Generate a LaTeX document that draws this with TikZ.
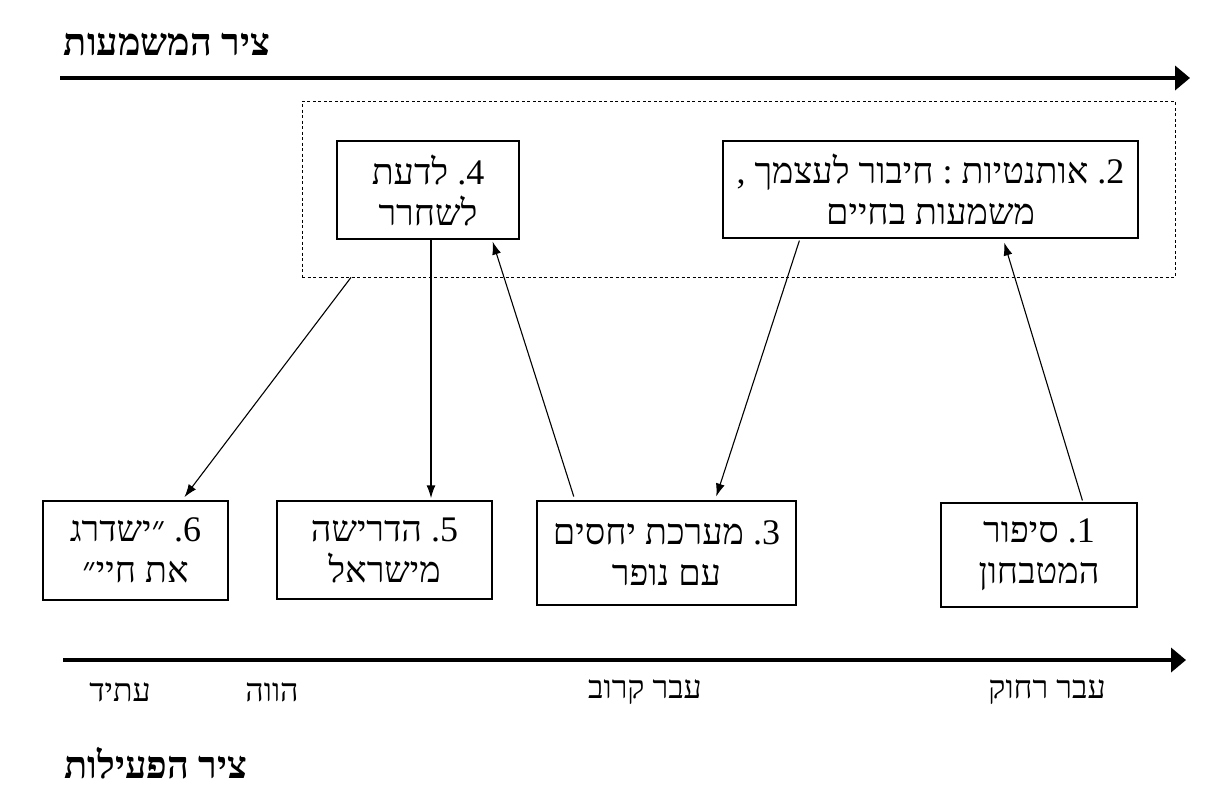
\documentclass[tikz,border=0pt]{standalone}
\usepackage{fontspec}
\usetikzlibrary{arrows.meta}
\TeXXeTstate=1
\newfontfamily\heb[Script=Hebrew]{Liberation Serif}
\frenchspacing
\begin{document}
\begin{tikzpicture}[x=1pt,y=-1pt,
  box/.style={draw, line width=1.3pt, inner sep=0pt, align=center,
    font=\heb\fontsize{36}{41}\selectfont},
  conn/.style={line width=1.1pt, -{Latex[length=13pt,width=9pt]}},
  axis/.style={line width=4pt, -{Triangle[length=15pt,width=24pt]}},
  axlabel/.style={font=\heb\fontsize{32}{36}\selectfont, inner sep=0pt},
  title/.style={font=\heb\bfseries\fontsize{38}{42}\selectfont, inner sep=0pt}]
\useasboundingbox (0,0) rectangle (1225,801);

% titles
\node[title] (t1) at (167,45) {\beginR ציר המשמעות\endR};
\node[title] (t2) at (156,763) {\beginR ציר הפעילות\endR};

% axes
\coordinate (a1s) at (60,78);
\coordinate (a1e) at (1190,78);
\draw[axis] (a1s) -- (a1e);
\coordinate (a2s) at (63,660);
\coordinate (a2e) at (1186,660);
\draw[axis] (a2s) -- (a2e);

% axis labels
\node[axlabel] (l1) at (120,692) {\beginR עתיד\endR};
\node[axlabel] (l2) at (272,692) {\beginR הווה\endR};
\node[axlabel] (l3) at (645,692) {\beginR עבר קרוב\endR};
\node[axlabel] (l4) at (1047,692) {\beginR עבר רחוק\endR};

% dashed frame
\node[draw, line width=0.8pt, dash pattern=on 3pt off 2.5pt, minimum width=873pt, minimum height=176pt, inner sep=0pt] (dbox) at (738.5,189) {};

% boxes
\node[box, minimum width=182pt, minimum height=98pt] (b4) at (428,190)
  {\beginR 4\kern0pt.\ לדעת\endR\\\beginR לשחרר\endR};
\node[box, minimum width=415pt, minimum height=97pt] (b2) at (930.5,189.5)
  {\beginR 2\kern0pt.\ אותנטיות : חיבור לעצמך ,\endR\\\beginR משמעות בחיים\endR};
\node[box, minimum width=185pt, minimum height=99pt] (b6) at (135.5,550.5)
  {\beginR 6\kern0pt.\ ״ישדרג\endR\\\beginR את חיי״\endR};
\node[box, minimum width=215pt, minimum height=98pt] (b5) at (384.5,550)
  {\beginR 5\kern0pt.\ הדרישה\endR\\\beginR מישראל\endR};
\node[box, minimum width=259pt, minimum height=104pt] (b3) at (666.5,553)
  {\beginR 3\kern0pt.\ מערכת יחסים\endR\\\beginR עם נופר\endR};
\node[box, minimum width=196pt, minimum height=104pt] (b1) at (1039,555)
  {\beginR 1\kern0pt.\ סיפור\endR\\\beginR המטבחון\endR};

% connectors
\draw[conn, shorten <=2pt, shorten >=4pt] ([xshift=44pt]b1.north) -- ([xshift=72.5pt]b2.south);
\draw[conn, shorten <=2pt, shorten >=4pt] ([xshift=-130.5pt]b2.south) -- ([xshift=48.5pt]b3.north);
\draw[conn, shorten <=4pt, shorten >=2pt] ([xshift=-91.5pt]b3.north) -- ([xshift=64pt]b4.south);
\draw[conn, line width=1.6pt, shorten >=2pt] ([xshift=3pt]b4.south) -- ([xshift=46.5pt]b5.north);
\draw[conn, shorten >=4pt] ([xshift=-387.5pt]dbox.south) -- ([xshift=46.5pt]b6.north);
\end{tikzpicture}
\end{document}
